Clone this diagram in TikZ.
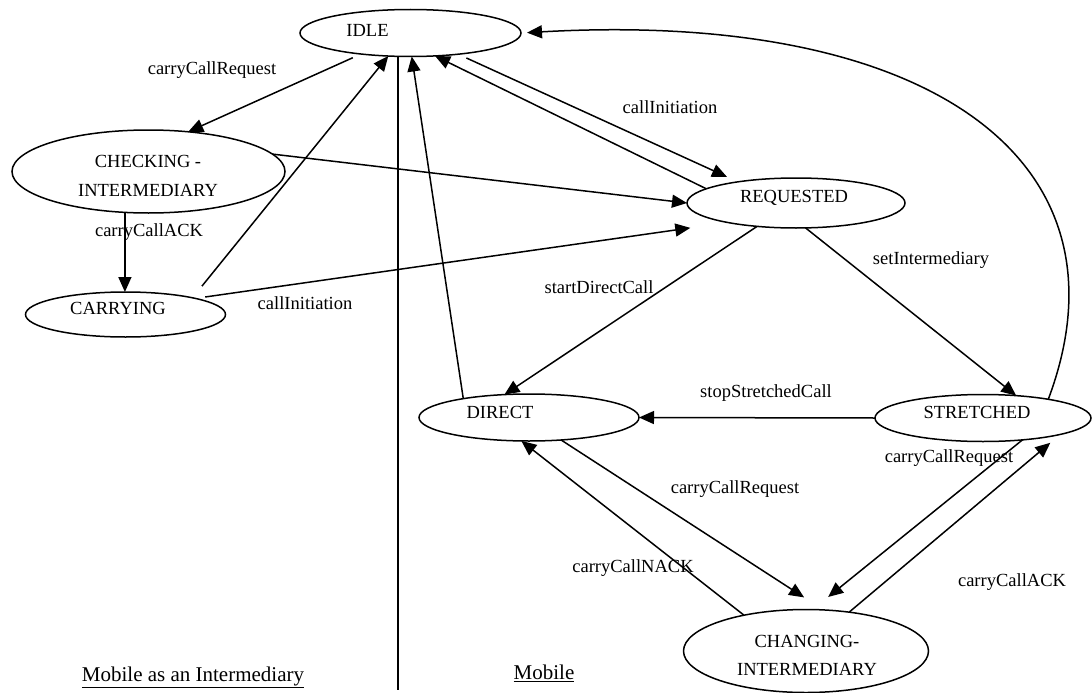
\documentclass[tikz,border=0pt]{standalone}
\usepackage{fontspec}
\setmainfont{Liberation Serif}
\usetikzlibrary{arrows.meta,shapes.geometric}
\begin{document}
\begin{tikzpicture}[x=1pt,y=-1pt,
  state/.style={draw, ellipse, line width=1.5pt, inner sep=0pt, outer sep=0pt},
  lbl/.style={font=\fontsize{18.5}{22}\selectfont, inner sep=0pt},
  stname/.style={font=\fontsize{18.5}{28.5}\selectfont, align=center, inner sep=0pt},
  captxt/.style={font=\fontsize{21}{25}\selectfont, inner sep=0pt},
  plain/.style={draw, line width=1.5pt},
  conn/.style={draw, line width=1.5pt, -{Triangle[length=15pt,width=13pt]}}]
\useasboundingbox (0,0) rectangle (1092,693);
% states
\node[state, minimum width=221pt, minimum height=47pt] (idle) at (410.5,33) {};
\node[stname] (idlet) at (367.5,30) {IDLE};
\node[state, minimum width=273pt, minimum height=83pt] (check) at (148.5,171.5) {};
\node[stname] (checkt) at (148,176) {CHECKING -\\INTERMEDIARY};
\node[state, minimum width=200pt, minimum height=45pt] (carry) at (125.5,314.5) {};
\node[stname] (carryt) at (118,308) {CARRYING};
\node[state, minimum width=218pt, minimum height=50pt] (req) at (796,203) {};
\node[stname] (reqt) at (794,198) {REQUESTED};
\node[state, minimum width=220pt, minimum height=47pt] (direct) at (529,417.5) {};
\node[stname] (directt) at (500,412) {DIRECT};
\node[state, minimum width=216pt, minimum height=47pt] (str) at (983,418) {};
\node[stname] (strt) at (977,412) {STRETCHED};
\node[state, minimum width=245pt, minimum height=83pt] (chg) at (806,651) {};
\node[stname] (chgt) at (807,655.5) {CHANGING-\\INTERMEDIARY};
% separator
\coordinate (vbot) at (398,690);
\draw[plain] (idle.south -| vbot) -- (vbot);
% connectors
\draw[conn, shorten <=9pt] (idle.203.4) -- (check.45);
\draw[conn] (check.240.7) -- (check.240.7 |- carry.north);
\draw[conn, shorten <=15pt] (carry.14.9) -- (idle.226.8);
\draw[conn] (direct.164.2) -- (idle.273.6);
\draw[conn, shorten <=9pt, shorten >=12pt] (idle.336.7) -- (req.160.7);
\draw[conn] (req.171.9) -- (idle.317.8);
\draw[conn] (check.8.3) -- (req.west);
\draw[conn, shorten <=10pt, shorten >=38pt] (carry.13.2) -- (req.196.1);
\draw[conn] (req.211) -- (direct.137.8);
\draw[conn] (req.291.4) -- (str.34.1);
\draw[conn, shorten >=6pt] (str.16.2) .. controls (1138,160) and (929,10) .. (idle.east);
\draw[conn] (str.west) -- (direct.east);
\draw[conn, shorten >=23pt] (direct.325) -- (chg.67.5);
\draw[conn] (chg.150) -- (direct.252.6);
\draw[conn, shorten >=20pt] (str.331.4) -- (chg.81.8);
\draw[conn, shorten >=13pt] (chg.42.3) -- (str.348.9);
% labels
\node[lbl] (l1) at (212,70) {carryCallRequest};
\node[lbl] (l2) at (149,232) {carryCallACK};
\node[lbl] (l3) at (305,303) {callInitiation};
\node[lbl] (l4) at (670,107) {callInitiation};
\node[lbl] (l5) at (599,287) {startDirectCall};
\node[lbl] (l6) at (931,260) {setIntermediary};
\node[lbl] (l7) at (766,393) {stopStretchedCall};
\node[lbl] (l8) at (735,489) {carryCallRequest};
\node[lbl] (l9) at (949,458) {carryCallRequest};
\node[lbl] (l10) at (633,568) {carryCallNACK};
\node[lbl] (l11) at (1012,582) {carryCallACK};
\node[captxt] (c1) at (193,677) {\underline{Mobile as an Intermediary}};
\node[captxt] (c2) at (544,673) {\underline{Mobile}};
\end{tikzpicture}
\end{document}
